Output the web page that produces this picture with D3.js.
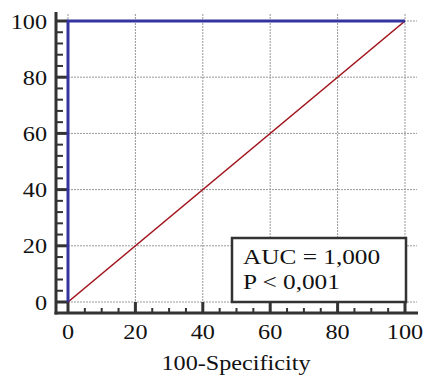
<!DOCTYPE html>
<html>
<head>
<meta charset="utf-8">
<script src="https://cdn.jsdelivr.net/npm/d3@7"></script>
<style>
  body { margin: 0; background: #fff; }
  svg { display: block; }
  text { font-family: "Liberation Serif", "DejaVu Serif", "Times New Roman", serif; fill: #111; }
</style>
</head>
<body>
<div id="chart"></div>
<script>
// data -----------------------------------------------------------------
const rocX = [0, 0, 100];          // 100-Specificity
const rocY = [0, 100, 100];        // Sensitivity
const refX = [0, 100];
const refY = [0, 100];
const majorTicks = [0, 20, 40, 60, 80, 100];
const xMinorTicks = d3.range(0, 101, 5);
const yMinorTicks = d3.range(0, 101, 4);
const statLines = ["AUC = 1,000", "P < 0,001"];
const xTitle = "100-Specificity";

// chart set up ----------------------------------------------------------
const svgWidth = 428, svgHeight = 376;
const stretch = 1.1;   // text in the reference is a little wider than normal

const svg = d3.select("#chart").append("svg")
    .attr("width", svgWidth)
    .attr("height", svgHeight);

const x = d3.scaleLinear().domain([0, 100]).range([68, 405]);
const y = d3.scaleLinear().domain([0, 100]).range([302, 21]);

const axisLeftX = 56, axisBottomY = 313;
const plotRight = 418, plotTop = 12;

// helper: text placed at (px,py) and stretched horizontally
function stretchedText(g, px, py, anchor, size, str, sx) {
    return g.append("text")
        .attr("transform", `translate(${px},${py}) scale(${sx || stretch},1)`)
        .attr("text-anchor", anchor)
        .attr("font-size", size)
        .text(str);
}

// grid
const grid = svg.append("g")
    .attr("stroke", "#999")
    .attr("stroke-width", 1)
    .attr("stroke-dasharray", "2,1");
grid.selectAll(".gy").data(majorTicks).enter().append("line")
    .attr("x1", axisLeftX).attr("x2", plotRight - 1)
    .attr("y1", d => y(d)).attr("y2", d => y(d));
grid.selectAll(".gx").data(majorTicks).enter().append("line")
    .attr("x1", d => x(d)).attr("x2", d => x(d))
    .attr("y1", axisBottomY).attr("y2", plotTop + 1);

// ticks (pointing into the plot)
const axisCol = "#333";
const ticks = svg.append("g").attr("stroke", axisCol);
ticks.selectAll(".ym").data(yMinorTicks).enter().append("line")
    .attr("x1", axisLeftX).attr("x2", d => majorTicks.includes(d) ? x(0) : axisLeftX + 7)
    .attr("y1", d => y(d)).attr("y2", d => y(d))
    .attr("stroke-width", d => majorTicks.includes(d) ? 3 : 2);
ticks.selectAll(".xm").data(xMinorTicks).enter().append("line")
    .attr("x1", d => x(d)).attr("x2", d => x(d))
    .attr("y1", axisBottomY).attr("y2", d => majorTicks.includes(d) ? y(0) : axisBottomY - 5)
    .attr("stroke-width", d => majorTicks.includes(d) ? 3 : 2);

// axis lines
svg.append("line")
    .attr("x1", axisLeftX).attr("x2", axisLeftX)
    .attr("y1", plotTop).attr("y2", axisBottomY + 1.5)
    .attr("stroke", axisCol).attr("stroke-width", 3);
svg.append("line")
    .attr("x1", axisLeftX - 1.5).attr("x2", plotRight)
    .attr("y1", axisBottomY).attr("y2", axisBottomY)
    .attr("stroke", axisCol).attr("stroke-width", 3);

// tick labels
const yLabels = svg.append("g");
majorTicks.forEach(d => stretchedText(yLabels, axisLeftX - 9, y(d) + 7.5, "end", 22, d));
const xLabels = svg.append("g");
majorTicks.forEach(d => stretchedText(xLabels, x(d), 339, "middle", 22, d));

// axis title
stretchedText(svg, 236, 370, "middle", 22, xTitle);

// reference diagonal
const line = d3.line().x(d => x(d[0])).y(d => y(d[1]));
svg.append("path")
    .datum(refX.map((v, i) => [v, refY[i]]))
    .attr("d", line)
    .attr("fill", "none")
    .attr("stroke", "#a0141a")
    .attr("stroke-width", 1.6);

// ROC curve
svg.append("path")
    .datum(rocX.map((v, i) => [v, rocY[i]]))
    .attr("d", line)
    .attr("fill", "none")
    .attr("stroke", "#3434a0")
    .attr("stroke-width", 3);

// stats box
const box = svg.append("g");
box.append("rect")
    .attr("x", 232).attr("y", 238)
    .attr("width", 174).attr("height", 64)
    .attr("fill", "#fff")
    .attr("stroke", "#333")
    .attr("stroke-width", 2.5);
statLines.forEach((d, i) => stretchedText(box, 243, 264 + i * 25, "start", 22, d, 1.15));
</script>
</body>
</html>
